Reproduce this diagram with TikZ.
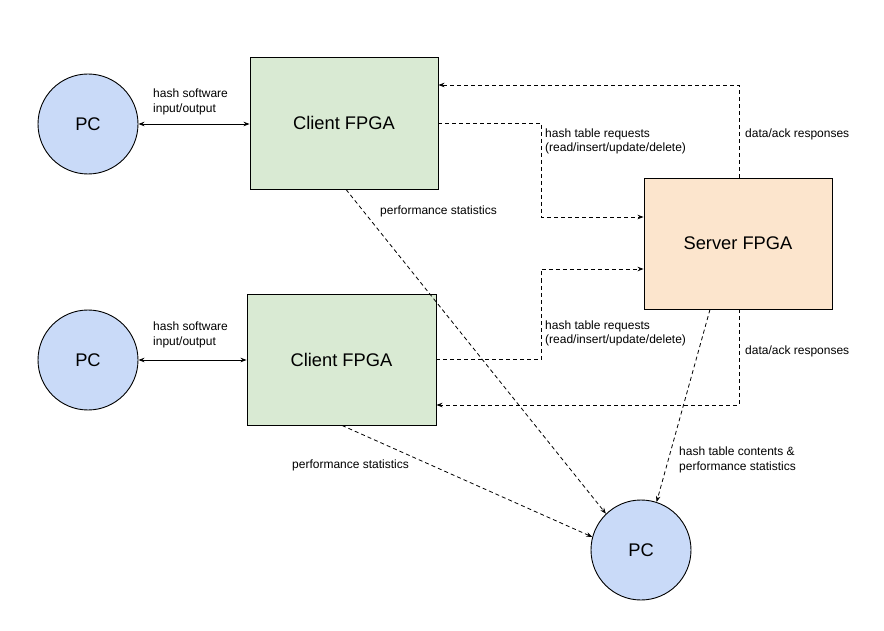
\documentclass[tikz,border=0pt]{standalone}
\usepackage{fontspec}
\setmainfont{Liberation Sans}
\usetikzlibrary{arrows.meta}
\definecolor{fgreen}{HTML}{D9EAD3}
\definecolor{forange}{HTML}{FCE5CD}
\definecolor{pcblue}{HTML}{C9DAF8}
\begin{document}
\begin{tikzpicture}[x=1pt,y=-1pt,
  pc/.style={circle,draw=black,line width=0.9pt,fill=pcblue,minimum size=100pt,inner sep=0pt,font=\fontsize{18.3}{21}\selectfont},
  fpga/.style={rectangle,draw=black,line width=0.9pt,fill=fgreen,minimum width=188pt,minimum height=132pt,inner sep=0pt,font=\fontsize{18.3}{21}\selectfont},
  srvbox/.style={rectangle,draw=black,line width=0.9pt,fill=forange,minimum width=188pt,minimum height=131pt,inner sep=0pt,font=\fontsize{18.3}{21}\selectfont},
  lbl/.style={anchor=west,align=left,inner sep=0pt,font=\fontsize{12}{14.5}\selectfont},
  tip/.style={-{Stealth[length=6pt,width=4.5pt]}},
  bi/.style={{Stealth[length=6pt,width=4.5pt]}-{Stealth[length=6pt,width=4.5pt]},line width=0.8pt},
  dsh/.style={tip,line width=0.8pt,dash pattern=on 4pt off 3pt}
]
\useasboundingbox (0,0) rectangle (884,631);

\node[pc] (pc1) at (88,124) {PC};
\node[pc] (pc2) at (88,360) {PC};
\node[pc] (pc3) at (641,550) {PC};
\node[fpga] (c1) at (344,123) {Client FPGA};
\node[fpga,minimum width=189pt,minimum height=131pt] (c2) at (341.5,359.5) {Client FPGA};
\node[srvbox] (srv) at (738,243.5) {Server FPGA};

% PC <-> client
\draw[bi] (pc1.east) -- (pc1.east -| c1.west);
\draw[bi] (pc2.east) -- (pc2.east -| c2.west);
\node[lbl] (l1) at (153,102) {hash software\\input/output};
\node[lbl] (l2) at (153,335) {hash software\\input/output};

% requests and responses
\coordinate (r1) at ([yshift=26.5pt]srv.west);
\coordinate (r2) at ([yshift=-25.5pt]srv.west);
\coordinate (a1) at ([xshift=1pt]srv.north);
\coordinate (a2) at ([xshift=1pt]srv.south);
\coordinate (t1) at ([yshift=38pt]c1.east);
\coordinate (t2) at ([yshift=-45.5pt]c2.east);

\draw[dsh] (c1.east) -- ++(103,0) |- (r1);
\draw[dsh] (a1) |- (t1);
\draw[dsh] (c2.east) -- ++(105,0) |- (r2);
\draw[dsh] (a2) |- (t2);

\node[lbl] (l3) at (545,141.5) {hash table requests\\(read/insert/update/delete)};
\node[lbl] (l4) at (745,134) {data/ack responses};
\node[lbl] (l5) at (545,333.5) {hash table requests\\(read/insert/update/delete)};
\node[lbl] (l6) at (745,351) {data/ack responses};

% statistics
\coordinate (s1) at ([xshift=2pt]c1.south);
\coordinate (s2) at ([xshift=0.5pt]c2.south);
\coordinate (s3) at ([xshift=-28pt]srv.south);
\draw[dsh] (s1) -- (pc3.134);
\draw[dsh] (s2) -- (pc3.165);
\draw[dsh] (s3) -- (pc3.72);
\node[lbl] (l7) at (380,211) {performance statistics};
\node[lbl] (l8) at (292,465) {performance statistics};
\node[lbl] (l9) at (679,460) {hash table contents \&\\performance statistics};
\end{tikzpicture}
\end{document}
